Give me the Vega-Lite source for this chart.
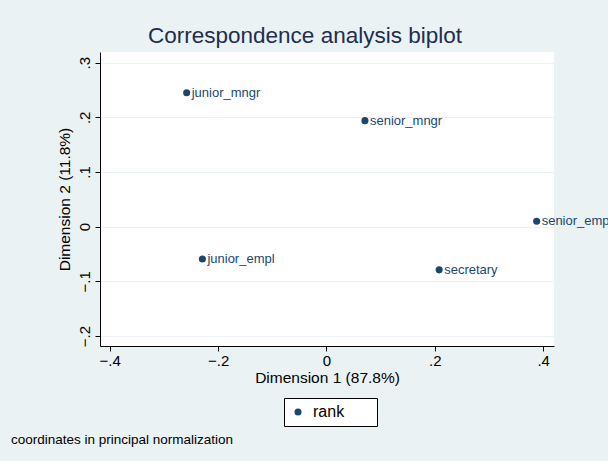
{
  "$schema": "https://vega.github.io/schema/vega-lite/v6.json",
  "width": 454,
  "height": 294,
  "autosize": {"type": "none"},
  "padding": {"left": 100, "top": 52, "right": 54, "bottom": 115},
  "background": "#eaf2f3",
  "title": {
    "text": "Correspondence analysis biplot",
    "font": "Liberation Sans",
    "fontSize": 22.5,
    "fontWeight": "normal",
    "color": "#1f2d50",
    "anchor": "middle",
    "dx": -22,
    "offset": 5
  },
  "config": {
    "view": {"stroke": null, "fill": "white"},
    "font": "Liberation Sans",
    "axis": {
      "domainColor": "black",
      "tickColor": "black",
      "tickSize": 5,
      "labelColor": "black",
      "labelFontSize": 15,
      "titleColor": "black",
      "titleFontSize": 15.5,
      "titleFontWeight": "normal",
      "labelFont": "Liberation Sans",
      "titleFont": "Liberation Sans"
    }
  },
  "data": {
    "values": [
      {"label": "senior_mngr", "dim1": 0.071, "dim2": 0.194, "series": "rank"},
      {"label": "junior_mngr", "dim1": -0.258, "dim2": 0.245, "series": "rank"},
      {"label": "senior_empl", "dim1": 0.388, "dim2": 0.010, "series": "rank"},
      {"label": "junior_empl", "dim1": -0.229, "dim2": -0.059, "series": "rank"},
      {"label": "secretary", "dim1": 0.208, "dim2": -0.079, "series": "rank"}
    ]
  },
  "layer": [
    {
      "mark": {"type": "point", "filled": true, "size": 50, "opacity": 1, "shape": "circle"},
      "encoding": {
        "x": {
          "field": "dim1",
          "type": "quantitative",
          "title": "Dimension 1 (87.8%)",
          "scale": {"domain": [-0.418, 0.42], "nice": false, "zero": false},
          "axis": {
            "values": [-0.4, -0.2, 0, 0.2, 0.4],
            "grid": false,
            "labelExpr": "datum.value == 0 ? '0' : replace(format(datum.value, '.1f'), '0.', '.')",
            "labelPadding": 2,
            "titlePadding": 2
          }
        },
        "y": {
          "field": "dim2",
          "type": "quantitative",
          "title": "Dimension 2 (11.8%)",
          "scale": {"domain": [-0.2183, 0.3196], "nice": false, "zero": false},
          "axis": {
            "values": [-0.2, -0.1, 0, 0.1, 0.2, 0.3],
            "grid": true,
            "gridColor": "#eaf2f3",
            "gridWidth": 1,
            "labelAngle": -90,
            "labelAlign": "center",
            "labelBaseline": "bottom",
            "labelPadding": 3,
            "labelExpr": "datum.value == 0 ? '0' : replace(format(datum.value, '.1f'), '0.', '.')",
            "titlePadding": 5
          }
        },
        "color": {
          "field": "series",
          "type": "nominal",
          "scale": {"range": ["#1a476f"]},
          "legend": {
            "title": null,
            "orient": "none",
            "legendX": 184,
            "legendY": 346,
            "strokeColor": "black",
            "fillColor": "white",
            "padding": 6,
            "symbolType": "circle",
            "symbolSize": 50,
            "symbolOffset": 0,
            "labelFontSize": 16,
            "labelColor": "black",
            "labelOffset": 7,
            "labelExpr": "datum.label + '\u00a0\u00a0\u00a0\u00a0\u00a0\u00a0\u200b'"
          }
        }
      }
    },
    {
      "mark": {"type": "text", "align": "left", "baseline": "middle", "dx": 5, "fontSize": 13, "font": "Liberation Sans", "color": "#1a476f"},
      "encoding": {
        "x": {"field": "dim1", "type": "quantitative"},
        "y": {"field": "dim2", "type": "quantitative"},
        "text": {"field": "label"}
      }
    },
    {
      "data": {"values": [{"note": "coordinates in principal normalization"}]},
      "mark": {"type": "text", "align": "left", "baseline": "middle", "fontSize": 13.5, "font": "Liberation Sans", "color": "black"},
      "encoding": {
        "x": {"datum": -0.5825, "type": "quantitative", "scale": {"domain": [-0.418, 0.42], "nice": false, "zero": false}},
        "y": {"datum": -0.39, "type": "quantitative", "scale": {"domain": [-0.2183, 0.3196], "nice": false, "zero": false}},
        "text": {"field": "note"}
      }
    }
  ]
}
